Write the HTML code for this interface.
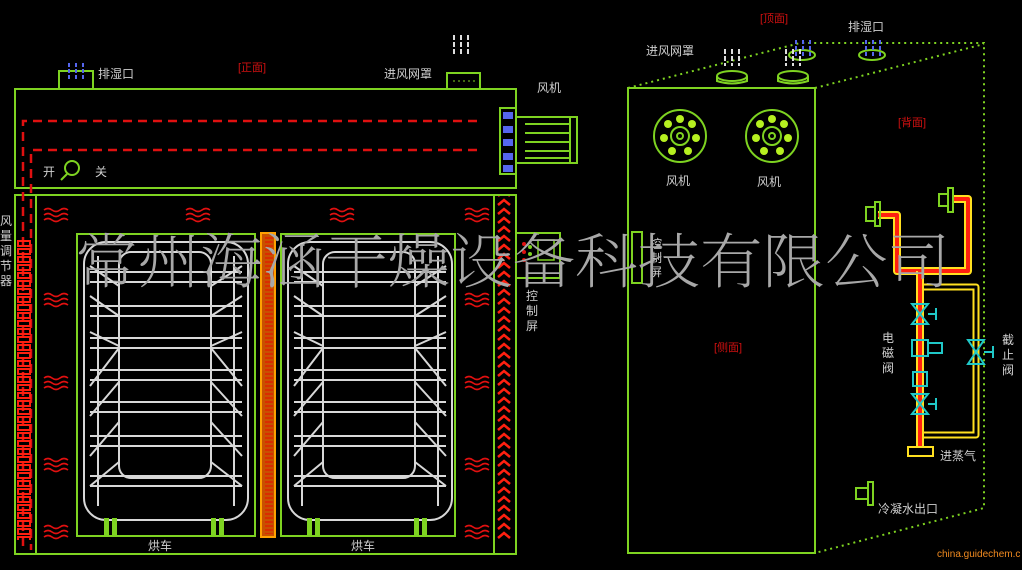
<!DOCTYPE html>
<html><head><meta charset="utf-8"><style>
html,body{margin:0;padding:0;background:#000;}
svg{display:block}
text{font-family:"Liberation Sans","Noto Sans CJK SC",sans-serif;}
</style></head><body>
<svg width="1022" height="570" viewBox="0 0 1022 570" xmlns="http://www.w3.org/2000/svg">
<defs>
<pattern id="chainL" x="0" y="0" width="16" height="8" patternUnits="userSpaceOnUse">
<rect x="2" y="1" width="12" height="5" fill="none" stroke="#ff2010" stroke-width="2"/>
</pattern>
<pattern id="chainR" x="0" y="0" width="16" height="9" patternUnits="userSpaceOnUse">
<path d="M2 7 L8 2 L14 7" fill="none" stroke="#ff2010" stroke-width="2.5"/>
</pattern>
<pattern id="coil" x="0" y="0" width="12" height="4" patternUnits="userSpaceOnUse">
<line x1="1" y1="2" x2="11" y2="2" stroke="#e02000" stroke-width="1.5"/>
</pattern>
<g id="wave" fill="none" stroke="#e01010" stroke-width="1.6">
<path d="M0 0 q4 -3 8 0 t8 0 t8 0"/><path d="M0 5 q4 -3 8 0 t8 0 t8 0"/><path d="M0 10 q4 -3 8 0 t8 0 t8 0"/>
</g>
<g id="cart" fill="none" stroke="#d8d8d8" stroke-width="2">
<rect x="8" y="6" width="164" height="278" rx="22"/>
<rect x="43" y="16" width="92" height="226" rx="12"/>
<path d="M14 36 H166 M14 46 H166 M14 70 H166 M14 80 H166 M14 102 H166 M14 112 H166 M14 134 H166 M14 144 H166 M14 166 H166 M14 176 H166 M14 200 H166 M14 210 H166 M14 240 H166 M14 250 H166"/>
<path d="M14 30 L43 50 M14 60 L43 80 M14 96 L43 110 M14 150 L43 112 M14 180 L43 146 M14 220 L43 186 M14 250 L43 226"/>
<path d="M166 30 L135 50 M166 60 L135 80 M166 96 L135 110 M166 150 L135 112 M166 180 L135 146 M166 220 L135 186 M166 250 L135 226"/>
<path d="M22 20 V270 M158 20 V270"/>
</g>
</defs>

<g fill="none" stroke="#7ed321" stroke-width="2">
<rect x="15" y="89" width="501" height="99"/>
<line x1="15" y1="195" x2="516" y2="195"/>
<rect x="15" y="195" width="501" height="359"/>
<line x1="36" y1="195" x2="36" y2="554"/>
<line x1="494" y1="195" x2="494" y2="554"/>
<rect x="59" y="71" width="34" height="18"/>
<rect x="447" y="73" width="33" height="16"/>
<rect x="516" y="117" width="61" height="46"/>
<line x1="525" y1="124" x2="570" y2="124"/><line x1="525" y1="133" x2="570" y2="133"/><line x1="525" y1="142" x2="570" y2="142"/><line x1="525" y1="151" x2="570" y2="151"/><line x1="525" y1="158" x2="570" y2="158"/>
<line x1="570" y1="117" x2="570" y2="163"/>
<rect x="500" y="108" width="16" height="66"/>
<rect x="77" y="234" width="178" height="302"/>
<rect x="281" y="234" width="174" height="302"/>
<rect x="516" y="233" width="44" height="45"/>
</g>
<line x1="453" y1="81" x2="475" y2="81" stroke="#7ed321" stroke-dasharray="2 3"/>
<g fill="#5566ee"><rect x="503" y="112" width="10" height="7"/><rect x="503" y="126" width="10" height="7"/><rect x="503" y="139" width="10" height="7"/><rect x="503" y="153" width="10" height="7"/><rect x="503" y="165" width="10" height="7"/></g>
<g stroke="#5566ee" stroke-width="2" stroke-dasharray="4 2"><line x1="69" y1="63" x2="69" y2="81"/><line x1="76" y1="63" x2="76" y2="81"/><line x1="83" y1="63" x2="83" y2="81"/></g>
<g stroke="#ddd" stroke-width="2" stroke-dasharray="5 2"><line x1="454" y1="35" x2="454" y2="55"/><line x1="461" y1="35" x2="461" y2="55"/><line x1="468" y1="35" x2="468" y2="55"/></g>
<g stroke="#e01010" stroke-width="2.5" stroke-dasharray="9 6" fill="none">
<path d="M477 121 H23 V550"/><path d="M477 150 H31 V550"/>
</g>
<rect x="17" y="240" width="16" height="300" fill="url(#chainL)"/>
<rect x="496" y="196" width="16" height="344" fill="url(#chainR)"/>
<rect x="261" y="233" width="14" height="304" fill="#c85000" stroke="#ffa000" stroke-width="2"/>
<rect x="263" y="236" width="10" height="298" fill="url(#coil)"/>
<use href="#wave" x="44" y="210"/><use href="#wave" x="44" y="295"/><use href="#wave" x="44" y="378"/><use href="#wave" x="44" y="460"/><use href="#wave" x="44" y="527"/>
<use href="#wave" x="186" y="210"/><use href="#wave" x="330" y="210"/>
<use href="#wave" x="465" y="210"/><use href="#wave" x="465" y="295"/><use href="#wave" x="465" y="378"/><use href="#wave" x="465" y="460"/><use href="#wave" x="465" y="527"/>
<use href="#cart" x="76" y="236"/>
<use href="#cart" x="280" y="236"/>
<g fill="#7ed321"><rect x="104" y="518" width="5" height="18"/><rect x="112" y="518" width="5" height="18"/><rect x="211" y="518" width="5" height="18"/><rect x="219" y="518" width="5" height="18"/>
<rect x="307" y="518" width="5" height="18"/><rect x="315" y="518" width="5" height="18"/><rect x="414" y="518" width="5" height="18"/><rect x="422" y="518" width="5" height="18"/></g>
<g fill="#7ed321"><circle cx="530" cy="247" r="2"/><circle cx="530" cy="254" r="2"/></g>
<g fill="#e01010"><circle cx="524" cy="244" r="2"/><circle cx="524" cy="252" r="2"/><circle cx="524" cy="260" r="2"/></g>
<rect x="538" y="240" width="16" height="20" fill="none" stroke="#7ed321" stroke-width="1.5"/>
<circle cx="72" cy="168" r="7" fill="none" stroke="#7ed321" stroke-width="2"/><line x1="67" y1="174" x2="61" y2="180" stroke="#7ed321" stroke-width="2"/>
<g fill="#cfcfcf" font-size="12">
<text x="98" y="78">排湿口</text>
<text x="384" y="78">进风网罩</text>
<text x="537" y="92">风机</text>
<text x="43" y="176">开</text><text x="95" y="176">关</text>
<text x="148" y="550">烘车</text><text x="351" y="550">烘车</text>
<text x="0" y="225">风</text><text x="0" y="240">量</text><text x="0" y="255">调</text><text x="0" y="270">节</text><text x="0" y="285">器</text>
<text x="526" y="300">控</text><text x="526" y="315">制</text><text x="526" y="330">屏</text>
</g>
<text x="238" y="71" fill="#d01010" font-size="11">[正面]</text>

<g stroke="#7ed321" stroke-width="2" stroke-dasharray="2 4" fill="none">
<path d="M628 88 L800 43 H984 V508 L815 553"/><path d="M815 88 L984 44"/>
</g>
<rect x="628" y="88" width="187" height="465" fill="none" stroke="#7ed321" stroke-width="2"/>
<g fill="none" stroke="#7ed321" stroke-width="2">
<circle cx="680" cy="136" r="26"/><circle cx="680" cy="136" r="9"/><circle cx="680" cy="136" r="3"/>
<circle cx="772" cy="136" r="26"/><circle cx="772" cy="136" r="9"/><circle cx="772" cy="136" r="3"/>
<ellipse cx="732" cy="76" rx="15" ry="5"/><path d="M717 76 V81 Q732 86 747 81 V76"/>
<ellipse cx="793" cy="76" rx="15" ry="5"/><path d="M778 76 V81 Q793 86 808 81 V76"/>
<ellipse cx="802" cy="55" rx="13" ry="5"/><ellipse cx="872" cy="55" rx="13" ry="5"/>
<rect x="632" y="232" width="10" height="51"/>
</g>
<g fill="#b6f020">
<circle cx="668" cy="124" r="4"/><circle cx="680" cy="119" r="4"/><circle cx="692" cy="124" r="4"/><circle cx="696" cy="138" r="4"/><circle cx="688" cy="151" r="4"/><circle cx="672" cy="151" r="4"/><circle cx="664" cy="138" r="4"/>
<circle cx="760" cy="124" r="4"/><circle cx="772" cy="119" r="4"/><circle cx="784" cy="124" r="4"/><circle cx="788" cy="138" r="4"/><circle cx="780" cy="151" r="4"/><circle cx="764" cy="151" r="4"/><circle cx="756" cy="138" r="4"/>
</g>
<g stroke="#ddd" stroke-width="2" stroke-dasharray="5 2"><line x1="725" y1="49" x2="725" y2="66"/><line x1="732" y1="49" x2="732" y2="66"/><line x1="739" y1="49" x2="739" y2="66"/><line x1="786" y1="49" x2="786" y2="66"/><line x1="793" y1="49" x2="793" y2="66"/><line x1="800" y1="49" x2="800" y2="66"/></g>
<g stroke="#5566ee" stroke-width="2" stroke-dasharray="4 2"><line x1="796" y1="40" x2="796" y2="58"/><line x1="803" y1="40" x2="803" y2="58"/><line x1="810" y1="40" x2="810" y2="58"/><line x1="866" y1="40" x2="866" y2="58"/><line x1="873" y1="40" x2="873" y2="58"/><line x1="880" y1="40" x2="880" y2="58"/></g>
<g fill="none" stroke-linejoin="round">
<path d="M878 215 H897 V271 H968 V199 H952" stroke="#ffe020" stroke-width="8"/>
<path d="M878 215 H897 V271 H968 V199 H952" stroke="#ff2010" stroke-width="4"/>
<path d="M920 287 H976 V435 H920" stroke="#ffe020" stroke-width="7"/>
<path d="M920 287 H976 V435 H920" stroke="#000" stroke-width="3"/>
<line x1="920" y1="271" x2="920" y2="448" stroke="#ffe020" stroke-width="8"/>
<line x1="920" y1="271" x2="920" y2="448" stroke="#ff2010" stroke-width="4"/>
</g>
<rect x="908" y="447" width="25" height="9" fill="none" stroke="#ffe020" stroke-width="2"/>
<g fill="none" stroke="#7ed321" stroke-width="2">
<rect x="866" y="207" width="9" height="14"/><rect x="875" y="202" width="5" height="24"/>
<rect x="939" y="194" width="9" height="12"/><rect x="948" y="188" width="5" height="24"/>
<rect x="856" y="488" width="12" height="11"/><rect x="868" y="482" width="5" height="23"/>
</g>
<g fill="none" stroke="#20c8c8" stroke-width="2">
<path d="M912 304 L928 304 L912 324 L928 324 Z"/><path d="M928 314 H936 M936 308 V320"/>
<path d="M912 394 L928 394 L912 414 L928 414 Z"/><path d="M928 404 H936 M936 398 V410"/>
<rect x="912" y="340" width="16" height="16"/><rect x="928" y="343" width="14" height="10"/>
<rect x="913" y="372" width="14" height="14"/>
<path d="M968 340 L984 340 L968 364 L984 364 Z"/><path d="M984 352 H993 M993 346 V358"/>
</g>
<g fill="#cfcfcf" font-size="12">
<text x="646" y="55">进风网罩</text>
<text x="848" y="31">排湿口</text>
<text x="666" y="185">风机</text><text x="757" y="186">风机</text>
<text x="650" y="248">控</text><text x="650" y="262">制</text><text x="650" y="276">屏</text>
<text x="882" y="342">电</text><text x="882" y="357">磁</text><text x="882" y="372">阀</text>
<text x="1002" y="344">截</text><text x="1002" y="359">止</text><text x="1002" y="374">阀</text>
<text x="940" y="460">进蒸气</text>
<text x="878" y="513">冷凝水出口</text>
</g>
<g fill="#d01010" font-size="11"><text x="760" y="22">[顶面]</text><text x="898" y="126">[背面]</text><text x="714" y="351">[侧面]</text></g>
<text x="937" y="557" fill="#f08a20" font-size="10">china.guidechem.c</text>
<text x="75" y="283" fill="#a8a8a8" font-size="60" textLength="875" lengthAdjust="spacingAndGlyphs" style='font-family:"Noto Serif CJK SC","Noto Sans CJK SC",serif;font-weight:200'>常州海涵干燥设备科技有限公司</text>
</svg>
</body></html>
